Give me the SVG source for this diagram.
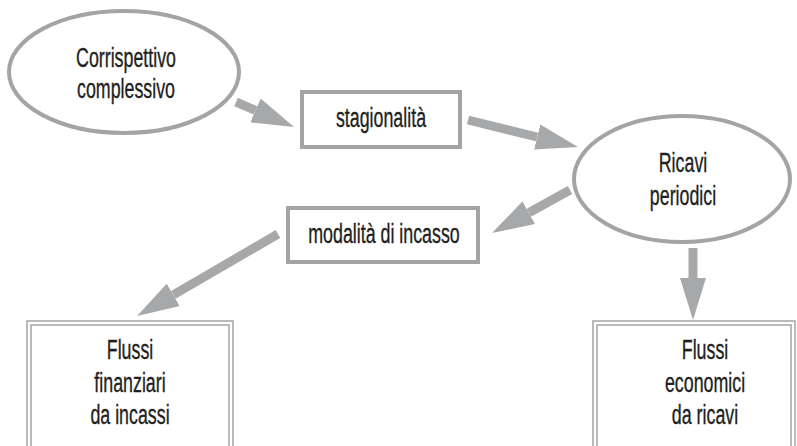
<svg xmlns="http://www.w3.org/2000/svg" width="797" height="446" viewBox="0 0 797 446">
<style>
.node{fill:#ffffff;stroke:#a3a4a6;stroke-width:4}
.dbl{fill:none;stroke:#a3a4a6;stroke-width:1.5}
.lbl{font-family:"Liberation Sans",Arial,sans-serif;font-size:27px;fill:#231f20;stroke:#231f20;stroke-width:0.35;text-anchor:middle}
.shaft{stroke:#a7a8aa;stroke-width:9;fill:none}
</style>
<defs>
<marker id="head" viewBox="0 0 42 26" refX="0" refY="13" markerWidth="42" markerHeight="26" markerUnits="userSpaceOnUse" orient="auto">
<path d="M0,0 L42,13 L0,26 z" fill="#a7a8aa"/>
</marker>
</defs>
<rect width="797" height="446" fill="#ffffff"/>
<g id="connectors">
<line class="shaft" x1="236" y1="102" x2="255.5" y2="110.4" marker-end="url(#head)"/>
<line class="shaft" x1="468" y1="120" x2="537.2" y2="137" marker-end="url(#head)"/>
<line class="shaft" x1="570" y1="190" x2="528.8" y2="212.7" marker-end="url(#head)"/>
<line class="shaft" x1="278" y1="234" x2="173.3" y2="294.9" marker-end="url(#head)"/>
<line class="shaft" x1="693" y1="248" x2="693" y2="278" marker-end="url(#head)"/>
</g>
<g id="corrispettivo">
<ellipse class="node" cx="124" cy="72" rx="115" ry="61"/>
<text class="lbl" transform="translate(126 0) scale(0.66 1)" x="0" y="67">Corrispettivo</text>
<text class="lbl" transform="translate(126 0) scale(0.66 1)" x="0" y="98">complessivo</text>
</g>
<g id="stagionalita">
<rect class="node" x="302" y="92" width="158" height="55"/>
<text class="lbl" transform="translate(381 0) scale(0.66 1)" x="0" y="127">stagionalità</text>
</g>
<g id="ricavi">
<ellipse class="node" cx="682" cy="179" rx="108" ry="63"/>
<text class="lbl" transform="translate(683 0) scale(0.66 1)" x="0" y="172">Ricavi</text>
<text class="lbl" transform="translate(683 0) scale(0.66 1)" x="0" y="205">periodici</text>
</g>
<g id="modalita">
<rect class="node" x="288" y="208" width="190" height="54"/>
<text class="lbl" transform="translate(384 0) scale(0.66 1)" x="0" y="243">modalità di incasso</text>
</g>
<g id="flussi-finanziari">
<rect class="dbl" x="27" y="321" width="206" height="140"/>
<rect class="dbl" x="31" y="325" width="198" height="140"/>
<text class="lbl" transform="translate(130 0) scale(0.66 1)" x="0" y="359">Flussi</text>
<text class="lbl" transform="translate(130 0) scale(0.66 1)" x="0" y="392">finanziari</text>
<text class="lbl" transform="translate(130 0) scale(0.66 1)" x="0" y="424">da incassi</text>
</g>
<g id="flussi-economici">
<rect class="dbl" x="593" y="321" width="202" height="140"/>
<rect class="dbl" x="597" y="325" width="194" height="140"/>
<text class="lbl" transform="translate(705 0) scale(0.66 1)" x="0" y="359">Flussi</text>
<text class="lbl" transform="translate(705 0) scale(0.66 1)" x="0" y="392">economici</text>
<text class="lbl" transform="translate(705 0) scale(0.66 1)" x="0" y="424">da ricavi</text>
</g>
</svg>
